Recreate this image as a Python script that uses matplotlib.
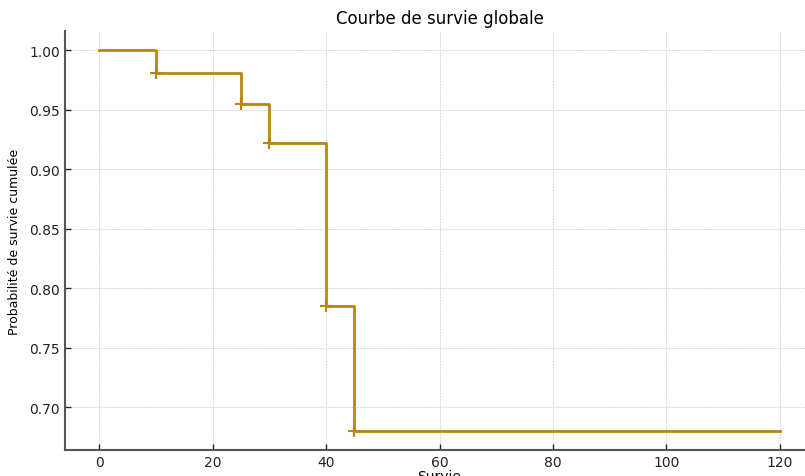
import matplotlib.pyplot as plt

# données de la courbe de Kaplan-Meier
temps = [0, 10, 25, 30, 40, 45, 120]
survie = [1.000, 0.981, 0.955, 0.922, 0.785, 0.680, 0.680]

# temps censurés et probabilité correspondante
temps_censure = [10, 25, 30, 40, 45]
survie_censure = [0.981, 0.955, 0.922, 0.785, 0.680]

couleur = '#B8860B'

fig = plt.figure(figsize=(8.05, 4.77), dpi=100)
ax = fig.add_axes([65 / 805, 1 - 451 / 477, (814 - 65) / 805, (451 - 32) / 477])

ax.step(temps, survie, where='post', color=couleur, linewidth=2)
ax.plot(temps_censure, survie_censure, '+', color=couleur, markersize=8, markeredgewidth=1.5)

ax.set_xlim(-6, 126)
ax.set_ylim(0.664, 1.016)
ax.set_xticks([0, 20, 40, 60, 80, 100, 120])
ax.set_yticks([0.70, 0.75, 0.80, 0.85, 0.90, 0.95, 1.00])
ax.yaxis.set_major_formatter(plt.FormatStrFormatter('%.2f'))

ax.grid(True, color='#d8d8d8', linestyle='--', linewidth=0.7, dashes=(2, 1))
ax.set_axisbelow(True)
for cote in ['top', 'right']:
    ax.spines[cote].set_visible(False)
for cote in ['left', 'bottom']:
    ax.spines[cote].set_color('#555555')
    ax.spines[cote].set_linewidth(1.5)
ax.tick_params(direction='in', length=4, width=1, colors='#222222', labelsize=10)

ax.set_title('Courbe de survie globale', fontsize=12, pad=6)
ax.set_xlabel('Survie', fontsize=10, labelpad=0)
ax.set_ylabel('Probabilité de survie cumulée', fontsize=9, labelpad=6)

fig.savefig('out.png', dpi=100)
